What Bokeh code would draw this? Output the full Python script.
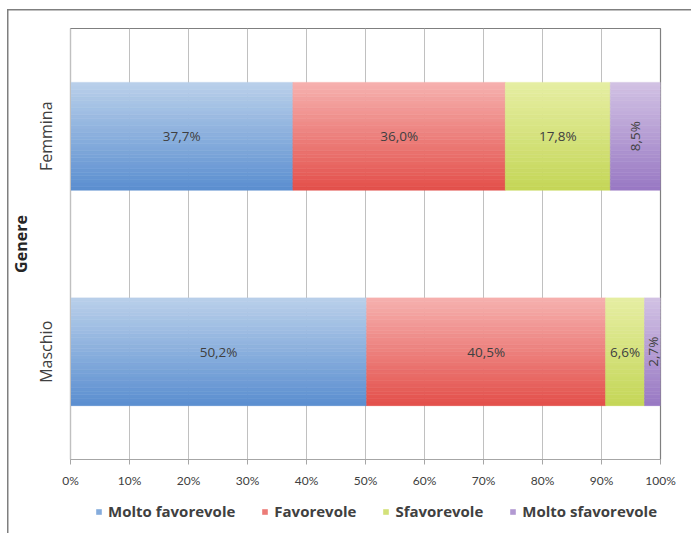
import numpy as np
from bokeh.plotting import figure
from bokeh.layouts import column
from bokeh.models import ColumnDataSource, FixedTicker, Legend, LegendItem, Range1d
from bokeh.core.properties import value
from bokeh.embed import file_html
from bokeh.resources import INLINE

# Survey answers by gender (percent of respondents)
genders = ["Maschio", "Femmina"]
series_names = ["Molto favorevole", "Favorevole", "Sfavorevole", "Molto sfavorevole"]
molto_favorevole = [50.2, 37.7]
favorevole = [40.5, 36.0]
sfavorevole = [6.6, 17.8]
molto_sfavorevole = [2.7, 8.5]
x_ticks = [0, 10, 20, 30, 40, 50, 60, 70, 80, 90, 100]
x_tick_labels = ["0%", "10%", "20%", "30%", "40%", "50%", "60%", "70%", "80%", "90%", "100%"]

series_values = [molto_favorevole, favorevole, sfavorevole, molto_sfavorevole]

# light (top) and dark (bottom) shade of each series' vertical gradient
shades = [
    ("#bad0ea", "#5a8ed0"),
    ("#f6b1af", "#e34f4a"),
    ("#e6eea3", "#c4d657"),
    ("#d2c2e4", "#9878c3"),
]
# the narrow last segment carries vertical labels
label_vertical = [False, False, False, True]

BAR_H = 0.5
N_SLICES = 30
FONT = "Open Sans"
TICK_FONT = "Lato"
TEXT = "#404040"
FRAME = "#7f7f7f"


def hex_to_rgb(h):
    h = h.lstrip("#")
    return np.array([int(h[i:i + 2], 16) for i in (0, 2, 4)], dtype=float)


def blend(c_top, c_bot, t):
    a, b = hex_to_rgb(c_bot), hex_to_rgb(c_top)
    c = a + (b - a) * t
    return "#%02x%02x%02x" % tuple(int(round(v)) for v in c)


# chart-area frame: thin grey lines along the left and top, inset from the page edge
main_bg = (
    f"linear-gradient({FRAME}, {FRAME}) 7px 9px / 1.5px 100% no-repeat, "
    f"linear-gradient({FRAME}, {FRAME}) 7px 9px / 100% 1.5px no-repeat, white"
)
legend_bg = f"linear-gradient({FRAME}, {FRAME}) 7px 0px / 1.5px 100% no-repeat, white"

p = figure(
    width=691, height=490,
    x_range=Range1d(0, 100), y_range=Range1d(-0.5, 1.5),
    output_backend="svg", toolbar_location=None,
    min_border_left=70, min_border_right=31, min_border_top=28, min_border_bottom=31,
    outline_line_color=FRAME, outline_line_width=1.2,
    background_fill_color="white", border_fill_alpha=0,
    styles={"background": main_bg},
)

# stacked bars, each drawn as thin horizontal strips to give a vertical gradient
mid_colors = []
starts = [0.0] * len(genders)
for name, vals, (top, bot) in zip(series_names, series_values, shades):
    ys, lefts, rights, colors = [], [], [], []
    for gi in range(len(genders)):
        left = starts[gi]
        right = left + vals[gi]
        for k in range(N_SLICES):
            t = (k + 0.5) / N_SLICES
            ys.append(gi - BAR_H / 2 + t * BAR_H)
            lefts.append(left)
            rights.append(right)
            colors.append(blend(top, bot, t))
        starts[gi] = right
    src = ColumnDataSource(dict(y=ys, left=lefts, right=rights, color=colors))
    p.hbar(y="y", left="left", right="right", height=BAR_H / N_SLICES,
           fill_color="color", line_color="color", line_width=0.6, source=src)
    mid_colors.append(blend(top, bot, 0.45))

# value labels centred in each segment
lx, ly, lt, la = [], [], [], []
starts = [0.0] * len(genders)
for vals, vertical in zip(series_values, label_vertical):
    for gi in range(len(genders)):
        v = vals[gi]
        lx.append(starts[gi] + v / 2)
        ly.append(gi)
        lt.append(f"{v:.1f}%".replace(".", ","))
        la.append(np.pi / 2 if vertical else 0.0)
        starts[gi] += v
p.text(x=lx, y=ly, text=lt, angle=la, text_align="center", text_baseline="middle",
       text_font=value(FONT), text_font_size="13.5px", text_color=TEXT)

# axes
p.xgrid.ticker = FixedTicker(ticks=x_ticks)
p.xgrid.grid_line_color = "#c0c0c0"
p.ygrid.grid_line_color = None

p.xaxis.ticker = FixedTicker(ticks=x_ticks)
p.xaxis.major_label_overrides = {t: l for t, l in zip(x_ticks, x_tick_labels)}
p.xaxis.axis_line_color = "#a6a6a6"
p.xaxis.major_tick_line_color = "#a6a6a6"
p.xaxis.major_tick_out = 5
p.xaxis.major_tick_in = 0
p.xaxis.minor_tick_line_color = None
p.xaxis.major_label_standoff = 8
p.xaxis.major_label_text_font = TICK_FONT
p.xaxis.major_label_text_font_size = "12px"
p.xaxis.major_label_text_color = TEXT

p.yaxis.ticker = FixedTicker(ticks=[0, 1])
p.yaxis.major_label_overrides = {i: g for i, g in enumerate(genders)}
p.yaxis.major_label_orientation = "vertical"
p.yaxis.axis_line_color = "#c0c0c0"
p.yaxis.major_tick_line_color = None
p.yaxis.minor_tick_line_color = None
p.yaxis.major_label_standoff = 8
p.yaxis.major_label_text_font = FONT
p.yaxis.major_label_text_font_size = "16px"
p.yaxis.major_label_text_color = TEXT
p.yaxis.axis_label = "Genere"
p.yaxis.axis_label_text_font = FONT
p.yaxis.axis_label_text_font_size = "16px"
p.yaxis.axis_label_text_font_style = "bold"
p.yaxis.axis_label_text_color = "#262626"
p.yaxis.axis_label_standoff = 0

# legend strip under the chart (its frame lines up with the chart's frame)
lg = figure(
    width=691, height=43,
    x_range=Range1d(0, 1), y_range=Range1d(0, 1),
    output_backend="svg", toolbar_location=None,
    min_border=0, outline_line_color=None,
    background_fill_alpha=0, border_fill_alpha=0,
    x_axis_type=None, y_axis_type=None,
    styles={"background": legend_bg},
)
lg.grid.visible = False
items = []
for name, col in zip(series_names, mid_colors):
    # swatch-only renderer: one undrawn row so the legend can read its colour
    swatch = lg.hbar(y=[np.nan], left=[np.nan], right=[np.nan], height=1,
                     fill_color=col, line_color=None)
    items.append(LegendItem(label=name, renderers=[swatch]))

legend = Legend(
    items=items, orientation="horizontal", location=(25, 12),
    label_text_font=FONT, label_text_font_size="15px", label_text_font_style="bold",
    label_text_color=TEXT, glyph_width=7, glyph_height=7, label_standoff=6,
    spacing=26, border_line_color=None, background_fill_alpha=0,
    padding=0, margin=0,
)
lg.add_layout(legend)

page = column(p, lg, spacing=0)
open("out.html", "w").write(file_html(page, INLINE))
